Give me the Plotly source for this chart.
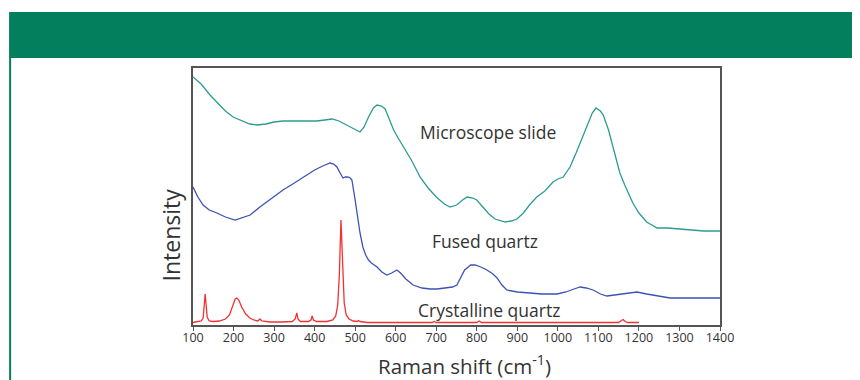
import plotly.graph_objects as go

# Microscope slide (teal)
slide_x = [100,120,142,160,180,199,220,240,258,280,300,322,350,380,405,425,443,460,475,487,500,512,522,533,545,554,565,574,585,595,606,620,640,660,680,700,720,734,750,765,776,790,800,815,830,845,860,870,885,899,915,930,948,968,988,1000,1013,1030,1045,1055,1070,1085,1094,1105,1112,1125,1140,1153,1165,1185,1200,1219,1245,1270,1301,1330,1360,1400]
slide_y = [248,241,230,222,214,208,204,201,200,201,203,204,204,204,204,205,206,204,201,198,196,193,198,208,217,220,219,216,205,195,187,178,164,148,137,128,121,118,120,125,128,127,125,118,111,106,104,103,104,106,112,120,128,134,143,146,148,158,172,182,198,212,217,214,210,195,172,152,140,122,112,103,97,97,96,95,94,94]

# Fused quartz (blue)
fused_x = [100,112,125,140,159,180,204,220,241,265,282,300,322,350,381,400,420,438,447,455,463,470,476,482,488,492,500,505,512,519,526,533,540,554,566,578,590,603,612,625,643,665,685,702,720,740,751,762,770,776,785,796,810,825,840,850,862,874,900,931,960,998,1020,1040,1055,1070,1087,1105,1121,1140,1160,1178,1195,1219,1245,1277,1310,1350,1400]
fused_y = [138,128,120,115,112,108,105,107,110,118,123,128,135,142,150,155,159,162,161,158,152,147,148,148,147,145,125,110,92,78,70,65,62,58,53,50,52,55,52,46,40,37,36,36,37,38,40,48,55,57,60,60,58,55,51,47,40,35,33,32,31,31,33,36,38,37,35,31,29,30,31,32,33,31,29,27,27,27,27]

# Crystalline quartz (red)
cryst_x = [100,110,120,125,128,130,132,135,140,150,165,180,190,198,204,208,213,220,230,240,250,260,265,270,290,320,345,352,356,359,365,385,391,394,397,405,430,445,452,457,461,465,469,473,478,485,495,505,508,512,530,600,690,695,700,800,806,812,900,1000,1100,1150,1157,1161,1166,1172,1200]
cryst_y = [2.5,3,4,7,20,31,22,8,4,3.5,4,6,10,19,26,27,25,18,11,7,5,4,6,4,3,3,3.5,6,12,6,3.5,3.5,5,9,5,3.5,3.5,5,9,20,50,105,55,22,10,6,4,3.5,4.5,3.5,2.5,2.5,2.5,3.5,2.5,2.5,4,2.5,2.5,2.5,2.5,2.5,4.5,5.5,3.5,2.5,2.5]

x_ticks = [100,200,300,400,500,600,700,800,900,1000,1100,1200,1300,1400]

labels = ["Microscope slide", "Fused quartz", "Crystalline quartz"]
label_x = [828, 820, 830]
label_y = [193, 84, 15]

fig = go.Figure()
fig.add_trace(go.Scatter(x=slide_x, y=slide_y, mode="lines",
                         line=dict(color="rgb(44,155,148)", width=1.3), showlegend=False))
fig.add_trace(go.Scatter(x=fused_x, y=fused_y, mode="lines",
                         line=dict(color="rgb(62,82,182)", width=1.3), showlegend=False))
fig.add_trace(go.Scatter(x=cryst_x, y=cryst_y, mode="lines",
                         line=dict(color="rgb(240,50,50)", width=1.3), showlegend=False))

for t, lx, ly in zip(labels, label_x, label_y):
    fig.add_annotation(x=lx, y=ly, text=t, showarrow=False,
                       xanchor="center", yanchor="middle",
                       font=dict(size=17.5, color="#333333"))

# Axis titles
fig.add_annotation(x=0.515, y=-0.155, xref="paper", yref="paper",
                   text="Raman shift (cm<sup>-1</sup>)", showarrow=False,
                   xanchor="center", yanchor="middle",
                   font=dict(size=20.5, color="#333333"))
fig.add_annotation(x=-0.041, y=0.35, xref="paper", yref="paper",
                   text="Intensity", showarrow=False, textangle=-90,
                   xanchor="center", yanchor="middle",
                   font=dict(size=23, color="#333333"))

# Green header band and left rule
fig.add_shape(type="rect", xref="paper", yref="paper",
              x0=-0.349, x1=1.27, y0=1.039, y1=1.218,
              fillcolor="rgb(3,127,94)", line=dict(width=0), layer="above")
fig.add_shape(type="line", xref="paper", yref="paper",
              x0=-0.347, x1=-0.347, y0=1.039, y1=-0.24,
              line=dict(color="rgb(3,127,94)", width=2))

fig.update_layout(
    width=852, height=372,
    margin=dict(l=185, r=140, t=60, b=55),
    paper_bgcolor="white", plot_bgcolor="white",
    font=dict(family="Open Sans, sans-serif", color="#333333"),
    xaxis=dict(range=[100, 1400], tickvals=x_ticks, ticks="outside", ticklen=4,
               tickcolor="#555555", showline=True, linecolor="#555555", linewidth=1.5,
               mirror=True, showgrid=False, zeroline=False, ticklabelstandoff=-4,
               tickfont=dict(size=12.5, color="#333333")),
    yaxis=dict(range=[0, 257], showticklabels=False, ticks="", showline=True,
               linecolor="#555555", linewidth=1.5, mirror=True, showgrid=False,
               zeroline=False),
)

fig.write_html("out.html")
